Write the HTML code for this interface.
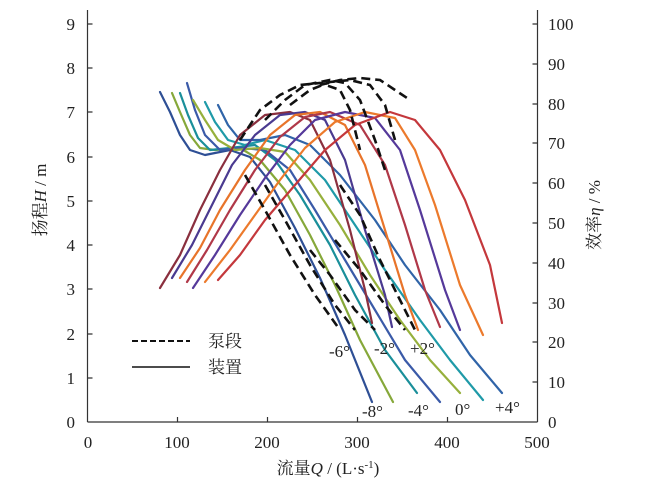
<!DOCTYPE html>
<html><head><meta charset="utf-8"><style>
body{margin:0;background:#fff}
svg{display:block}
.t{font-family:"Liberation Serif",serif;font-size:17px;fill:#222}
.c{font-family:"Liberation Serif","Noto Serif CJK SC",serif;font-size:17px;fill:#222}
</style></head><body>
<svg width="650" height="482" viewBox="0 0 650 482">
<g stroke="#333" stroke-width="1.2" fill="none">
<line x1="87.5" y1="10" x2="87.5" y2="422"/>
<line x1="537.5" y1="10" x2="537.5" y2="422"/>
<line x1="87.5" y1="422" x2="537.5" y2="422"/>
<path d="M87.5 378h5M87.5 334h5M87.5 289h5M87.5 245h5M87.5 201h5M87.5 157h5M87.5 112h5M87.5 68h5M87.5 24h5"/>
<path d="M537.5 382h-5M537.5 342h-5M537.5 303h-5M537.5 263h-5M537.5 223h-5M537.5 183h-5M537.5 143h-5M537.5 104h-5M537.5 64h-5M537.5 24h-5"/>
<path d="M177.5 422v-5M267.5 422v-5M357.5 422v-5M447.5 422v-5"/>
</g>
<g class="t" text-anchor="end">
<text x="75" y="428">0</text><text x="75" y="384">1</text><text x="75" y="340">2</text><text x="75" y="295">3</text><text x="75" y="251">4</text><text x="75" y="207">5</text><text x="75" y="163">6</text><text x="75" y="118">7</text><text x="75" y="74">8</text><text x="75" y="30">9</text>
</g>
<g class="t" text-anchor="start">
<text x="548" y="428">0</text><text x="548" y="388">10</text><text x="548" y="348">20</text><text x="548" y="309">30</text><text x="548" y="269">40</text><text x="548" y="229">50</text><text x="548" y="189">60</text><text x="548" y="149">70</text><text x="548" y="110">80</text><text x="548" y="70">90</text><text x="548" y="30">100</text>
</g>
<g class="t" text-anchor="middle">
<text x="88" y="448">0</text><text x="177" y="448">100</text><text x="267" y="448">200</text><text x="357" y="448">300</text><text x="447" y="448">400</text><text x="537" y="448">500</text>
</g>
<text class="c" x="328" y="474" text-anchor="middle">流量<tspan font-style="italic">Q</tspan> / (L·s<tspan font-size="11" dy="-6">-1</tspan><tspan dy="6">)</tspan></text>
<text class="c" transform="translate(46,200) rotate(-90)" text-anchor="middle">扬程<tspan font-style="italic">H</tspan> / m</text>
<text class="c" transform="translate(600,215) rotate(-90)" text-anchor="middle">效率<tspan font-style="italic">η</tspan> / %</text>

<g fill="none" stroke-width="2.2" stroke-linejoin="round" stroke-linecap="round">
<!-- head curves -->
<polyline stroke="#2e4f95" points="160,92 170,112 180,135 190,150 205,155 230,150 250,157 270,182 295,228 320,278 345,335 372,402"/>
<polyline stroke="#86a83a" points="172,93 180,112 190,135 200,148 215,150 240,148 260,160 285,190 310,235 335,285 360,340 393,402"/>
<polyline stroke="#1a8f9a" points="180,93 188,115 198,138 210,150 230,148 255,145 275,160 300,195 330,245 355,295 385,350 417,393"/>
<polyline stroke="#3a5aa8" points="187,83 195,110 205,135 220,150 240,148 265,150 290,170 315,210 345,260 375,310 405,360 440,402"/>
<polyline stroke="#96b03c" points="193,100 205,120 218,140 235,150 260,148 285,152 310,180 340,225 370,275 400,320 430,360 460,393"/>
<polyline stroke="#1f9aa8" points="205,102 215,122 228,140 245,145 265,140 295,150 325,180 355,225 385,270 420,320 450,360 483,400"/>
<polyline stroke="#3064a8" points="218,105 228,125 240,140 260,140 285,135 310,145 340,175 375,220 405,265 440,310 470,355 502,393"/>
<!-- efficiency curves -->
<polyline stroke="#8a2f3e" points="160,288 180,255 200,210 220,170 240,135 265,115 290,112 310,120 330,160 350,230 365,290 372,323"/>
<polyline stroke="#4a3a90" points="172,278 192,245 212,205 232,165 255,135 280,115 305,112 325,120 345,160 365,230 385,295 392,327"/>
<polyline stroke="#e8742a" points="180,278 200,248 220,210 245,170 270,135 295,115 320,112 345,125 365,165 385,230 405,295 418,330"/>
<polyline stroke="#b03848" points="187,282 207,250 230,210 255,170 280,137 305,117 330,112 360,125 385,165 405,225 425,290 440,327"/>
<polyline stroke="#55399a" points="193,288 215,255 240,215 265,178 290,145 315,120 345,112 375,118 400,150 420,210 445,290 460,330"/>
<polyline stroke="#ec7a2c" points="205,282 230,250 255,215 280,180 305,148 335,122 365,112 395,118 415,150 435,205 460,285 483,335"/>
<polyline stroke="#c4383c" points="218,280 240,255 265,220 295,185 325,150 355,125 390,112 415,120 440,150 465,200 490,265 502,323"/>
</g>
<g fill="none" stroke="#111" stroke-width="2.6" stroke-dasharray="9,5">
<polyline points="240,140 260,110 280,95 300,85 320,83 340,90 350,110 360,150"/>
<polyline points="265,120 285,100 305,85 330,80 345,83 360,100 375,140 385,170"/>
<polyline points="290,105 310,90 330,82 350,80 370,85 385,105 395,140"/>
<polyline points="320,85 340,80 360,78 380,80 395,90 410,100"/>
<polyline points="245,175 265,210 290,255 315,295 340,330"/>
<polyline points="265,185 285,220 310,265 335,305 355,330"/>
<polyline points="310,250 330,275 355,310 375,330"/>
<polyline points="340,185 360,215 380,260 400,300 415,330"/>
<polyline points="335,240 360,270 385,305 405,330"/>
</g>
<line x1="132" y1="341" x2="190" y2="341" stroke="#111" stroke-width="2" stroke-dasharray="6,3"/>
<line x1="132" y1="367" x2="190" y2="367" stroke="#111" stroke-width="1.6"/>
<text class="c" x="208" y="347">泵段</text>
<text class="c" x="208" y="373">装置</text>
<g class="t" font-size="16">
<text x="329" y="357">-6°</text><text x="374" y="354">-2°</text><text x="410" y="354">+2°</text>
<text x="362" y="417">-8°</text><text x="408" y="416">-4°</text><text x="455" y="415">0°</text><text x="495" y="413">+4°</text>
</g>
</svg>
</body></html>
